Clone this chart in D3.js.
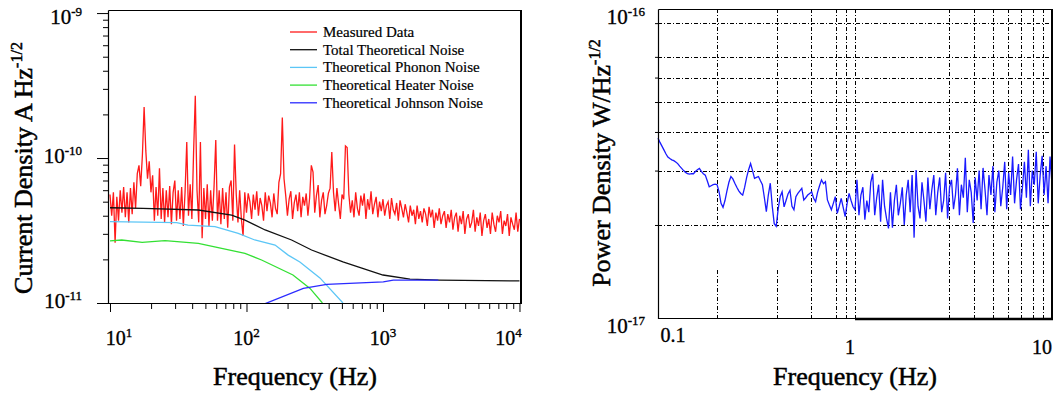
<!DOCTYPE html>
<html>
<head>
<meta charset="utf-8">
<script src="https://cdn.jsdelivr.net/npm/d3@7"></script>
<style>
  body { margin: 0; background: #fff; }
  svg { display: block; font-family: "Liberation Serif", "Times New Roman", serif; }
  text { stroke: #000; stroke-width: 0.35px; }
</style>
</head>
<body>
<svg id="chart" width="1062" height="393"></svg>
<script>
// ---------- left panel: current noise density (values in 1e-12 A/rtHz) ----------
// measured spectrum sampled on a log grid, 10 Hz .. 10 kHz, 0.0125 decade apart
const measuredLogStart = 1, measuredLogStep = 0.0125;
const measuredData = [
  56,40,58,26,54,37,60,42,63,39,58,36,62,41,68,45,78,89,64,105,
  225,112,72,95,58,76,37,63,40,85,38,62,36,60,39,64,35,58,70,37,
  60,38,63,34,58,129,40,66,38,110,269,60,36,129,28,62,38,66,34,60,
  37,64,133,37,60,35,62,38,58,33,63,70,37,124,56,36,60,38,29,58,
  42,57,50,38,56,44,59,40,53,47,37,58,43,55,49,39,57,45,41,68,
  78,190,72,55,40,52,59,38,49,56,43,58,39,54,47,57,40,53,89,80,
  42,55,65,39,51,58,41,47,57,62,110,58,43,62,48,38,56,52,121,118,
  56,42,51,39,58,45,40,55,47,57,38,52,44,59,41,48,54,39,50,43,
  52,40,47,50,38,53,44,41,49,37,51,45,39,48,42,36,47,40,44,35,
  47,38,43,36,45,41,34,46,39,44,33,42,37,45,35,40,43,33,41,36,
  44,32,39,42,31,40,35,43,30,38,41,33,36,44,31,39,34,42,29,37,
  41,33,38,30,42,35,31,40,36,43,30,37,34,41,29,39,35,32,42,31,38
];

const totalFreq  = [10, 17.5, 44.4, 77.8, 97.5, 137, 214, 300, 509, 700, 1000, 1577, 2600, 10000];
const totalNoise = [45.4, 45.0, 43.8, 40.4, 37.3, 31.9, 27.2, 23.2, 19.2, 17.4, 15.6, 14.6, 14.4, 14.2];

const phononFreq  = [10, 30.8, 37.3, 58.8, 87, 115, 162, 202, 246, 345, 509];
const phononNoise = [36.4, 35.8, 34.5, 33.6, 30.2, 27.2, 25.1, 21.4, 19.2, 14.9, 10.0];

const heaterFreq  = [10, 12.2, 17.2, 25.3, 44.4, 65.8, 97.5, 129, 219, 292, 360];
const heaterNoise = [26.8, 27.2, 26.2, 26.9, 25.8, 23.8, 22.0, 19.8, 15.6, 12.6, 10.0];

const johnsonFreq  = [137, 261, 387, 1005, 1190, 2540];
const johnsonNoise = [9.9, 12.6, 13.45, 14.0, 14.4, 14.4];

const legendLabels = ['Measured Data', 'Total Theoretical Noise', 'Theoretical Phonon Noise',
                      'Theoretical Heater Noise', 'Theoretical Johnson Noise'];
const legendColors = ['#ff1a1a', '#111111', '#5cc6f6', '#33e033', '#2b2bff'];

const leftXTicks = [10, 100, 1000, 10000];
const leftXExp   = ['1', '2', '3', '4'];
const leftYTicks = [1e-11, 1e-10, 1e-9];
const leftYExp   = ['-11', '-10', '-9'];

// ---------- right panel: power noise density (values in 1e-18 W/rtHz) ----------
// sampled on a log grid, 0.1 Hz .. 10 Hz, 0.01 decade apart
const powerLogStart = -1, powerLogStep = 0.01;
const powerData = [
  38.2,37.0,36.0,35.0,34.0,33.2,32.8,32.5,32.3,32.0,31.6,31.0,30.5,30.0,29.6,29.3,29.2,29.3,29.3,29.8,
  30.2,30.5,29.8,29.3,29.0,27.8,26.6,26.8,27.0,27.1,27.0,25.6,23.5,22.8,24.0,25.8,27.5,28.7,28.2,27.3,
  26.5,25.8,25.3,25.0,26.5,28.5,30.2,31.6,30.0,28.3,28.5,28.7,27.8,27.0,24.5,22.1,25.0,27.3,23.0,20.2,
  19.8,22.5,24.7,25.6,22.9,24.0,25.2,25.9,23.0,22.4,24.7,25.3,25.8,26.3,24.1,24.5,25.0,25.3,25.6,24.4,
  23.8,25.5,26.8,28.0,27.2,27.6,24.1,23.2,22.4,23.5,24.7,21.8,23.0,24.4,22.8,21.3,23.5,25.3,24.0,22.9,
  22.4,28.0,21.5,25.0,26.5,20.8,24.0,22.0,27.5,29.3,21.5,24.5,27.0,20.5,28.0,23.0,21.0,19.5,25.5,19.6,
  24.0,27.0,21.5,23.5,26.5,20.0,25.0,28.0,22.0,29.0,18.2,30.1,23.0,21.0,27.5,24.0,20.5,28.5,22.5,26.0,
  29.0,21.5,25.5,28.5,22.0,24.0,29.5,21.0,26.5,28.0,22.5,25.0,30.5,21.5,27.0,24.5,33.0,22.0,28.0,25.5,
  20.3,28.5,24.0,30.0,22.5,30.6,26.0,21.5,29.0,25.0,31.0,22.0,27.5,30.0,23.0,26.5,32.0,22.5,29.5,25.0,
  33.3,23.5,28.0,31.5,22.5,26.5,32.0,24.5,35.0,23.0,30.0,27.0,34.5,23.5,29.0,33.5,25.0,31.0,23.5,33.3,
  27.0
];

const rightGridX = [0.2, 0.4, 0.6, 0.8, 0.9, 1, 3, 4, 5, 6, 7, 8, 9];
const rightGridY = [2e-17, 3e-17, 4e-17, 5e-17, 6e-17, 7e-17, 9e-17];
const rightXTicks  = [0.1, 1, 10];
const rightXLabels = ['0.1', '1', '10'];
const rightYTicks = [1e-17, 1e-16];
const rightYExp   = ['-17', '-16'];

const svg = d3.select('#chart');

function powLabel(g, x, y, exp, size, anchor) {
  const t = g.append('text').attr('x', x).attr('y', y)
    .attr('text-anchor', anchor).attr('font-size', size);
  t.append('tspan').text('10');
  t.append('tspan').attr('dy', -8).attr('font-size', 13).text(exp);
  return t;
}

// ================= left chart =================
const xL = d3.scaleLog().domain([9.67, 10260]).range([108, 521]);
const yL = d3.scaleLog().domain([1e-11, 1.05e-9]).range([303, 10]);
const left = svg.append('g');

left.append('clipPath').attr('id', 'clipL')
  .append('rect').attr('x', 108).attr('y', 10).attr('width', 413).attr('height', 293);

const lineL = d3.line().x(d => xL(d[0])).y(d => yL(d[1] * 1e-12));
const plotL = left.append('g').attr('clip-path', 'url(#clipL)');

const measured = measuredData.map((v, i) => [Math.pow(10, measuredLogStart + i * measuredLogStep), v]);
plotL.append('path').datum(measured)
  .attr('d', lineL).attr('fill', 'none').attr('stroke', legendColors[0])
  .attr('stroke-width', 1.3);

const curves = [
  [totalFreq, totalNoise, legendColors[1]],
  [phononFreq, phononNoise, legendColors[2]],
  [heaterFreq, heaterNoise, legendColors[3]],
  [johnsonFreq, johnsonNoise, legendColors[4]]
];
curves.forEach(c => {
  plotL.append('path').datum(c[0].map((f, i) => [f, c[1][i]]))
    .attr('d', lineL).attr('fill', 'none').attr('stroke', c[2]).attr('stroke-width', 1.3);
});

// axes
const minorX = xL.ticks().filter(v => leftXTicks.indexOf(v) < 0 && v > 10 && v < 10000);
left.append('g').attr('transform', 'translate(0,303)')
  .call(d3.axisBottom(xL).tickValues(leftXTicks).tickSize(9).tickSizeOuter(0).tickFormat(''))
  .call(g => g.select('.domain').remove());
left.append('g').attr('transform', 'translate(0,303)')
  .call(d3.axisBottom(xL).tickValues(minorX).tickSize(6).tickSizeOuter(0).tickFormat(''))
  .call(g => g.select('.domain').remove());

const minorY = yL.ticks().filter(v => v > 1.01e-11 && v < 0.99e-9 && Math.abs(Math.log10(v) - Math.round(Math.log10(v))) > 0.01);
left.append('g').attr('transform', 'translate(108,0)')
  .call(d3.axisLeft(yL).tickValues(leftYTicks).tickSize(11).tickSizeOuter(0).tickFormat(''))
  .call(g => g.select('.domain').remove());
left.append('g').attr('transform', 'translate(108,0)')
  .call(d3.axisLeft(yL).tickValues(minorY).tickSize(5).tickSizeOuter(0).tickFormat(''))
  .call(g => g.select('.domain').remove());

// frame
left.append('path').attr('fill', 'none').attr('stroke', '#000').attr('stroke-width', 1.2)
  .attr('d', 'M108.5,10.5V303.5H521.5M108.5,10.5H521.5');
left.append('line').attr('x1', 521).attr('x2', 521).attr('y1', 10).attr('y2', 304)
  .attr('stroke', '#000').attr('stroke-width', 2);

// tick labels
leftXTicks.forEach((v, i) => {
  const dx = i === 0 ? 9 : (i === leftXTicks.length - 1 ? -11 : 0);
  powLabel(left, xL(v) + dx, 345, leftXExp[i], 20, 'middle');
});
leftYTicks.forEach((v, i) => {
  powLabel(left, 82, Math.max(yL(v) + 5, 24), leftYExp[i], 21, 'end');
});

// legend
legendLabels.forEach((lab, i) => {
  const ry = 32 + i * 17.7;
  left.append('line').attr('x1', 290).attr('x2', 317).attr('y1', ry).attr('y2', ry)
    .attr('stroke', legendColors[i]).attr('stroke-width', 1.3);
  left.append('text').attr('x', 323).attr('y', ry + 5).attr('font-size', 15)
    .style('stroke-width', '0.2px').text(lab);
});

// titles
left.append('text').attr('x', 295).attr('y', 385).attr('text-anchor', 'middle')
  .attr('font-size', 26).style('stroke-width', '0.5px').text('Frequency (Hz)');
const tL = left.append('text').attr('transform', 'translate(32,168) rotate(-90)')
  .attr('text-anchor', 'middle').attr('font-size', 26).style('stroke-width', '0.5px');
tL.append('tspan').text('Current Density A Hz');
tL.append('tspan').attr('dy', -10).attr('font-size', 16).text('-1/2');

// ================= right chart =================
const xR = d3.scaleLog().domain([0.1, 10]).range([658, 1052]);
const yR = d3.scaleLog().domain([1e-17, 1e-16]).range([318, 9]);
const right = svg.append('g');
const dash = '4,2,1,2';

right.selectAll('.gy').data(rightGridY).enter().append('line')
  .attr('x1', 658).attr('x2', 1052)
  .attr('y1', d => Math.round(yR(d)) + 0.5).attr('y2', d => Math.round(yR(d)) + 0.5)
  .attr('stroke', '#000').attr('stroke-dasharray', dash);
right.selectAll('.gx').data(rightGridX).enter().append('line')
  .attr('x1', d => Math.round(xR(d)) + 0.5).attr('x2', d => Math.round(xR(d)) + 0.5)
  .attr('y1', 9).attr('y2', 318)
  .attr('stroke', '#000').attr('stroke-dasharray', dash);

// empty (hidden) legend box masking part of the grid
right.append('rect')
  .attr('x', xR(0.104)).attr('y', yR(1.98e-17))
  .attr('width', xR(0.55) - xR(0.104)).attr('height', yR(1.45e-17) - yR(1.98e-17))
  .attr('fill', '#fff');

const lineR = d3.line().x(d => xR(d[0])).y(d => yR(d[1] * 1e-18));
const power = powerData.map((v, i) => [Math.pow(10, powerLogStart + i * powerLogStep), v]);
right.append('path').datum(power)
  .attr('d', lineR).attr('fill', 'none').attr('stroke', '#1a1aff').attr('stroke-width', 1.3);

right.append('g').attr('transform', 'translate(658,0)')
  .call(d3.axisLeft(yR).tickValues(rightGridY).tickSize(3).tickSizeOuter(0).tickFormat(''))
  .call(g => g.select('.domain').remove());

// frame
right.append('path').attr('fill', 'none').attr('stroke', '#000').attr('stroke-width', 1.2)
  .attr('d', 'M658.5,9.5V318.5H1052.5M658.5,9.5H1052.5');
right.append('line').attr('x1', 1052).attr('x2', 1052).attr('y1', 9).attr('y2', 320)
  .attr('stroke', '#000').attr('stroke-width', 2);
right.append('line').attr('x1', xR(1)).attr('x2', 1053).attr('y1', 319).attr('y2', 319)
  .attr('stroke', '#000').attr('stroke-width', 2.5);

// tick labels
const rxDx = [15, -5, 0], rxY = [342, 354, 354], rxAnchor = ['middle', 'middle', 'end'];
rightXTicks.forEach((v, i) => {
  right.append('text').attr('x', Math.min(xR(v) + rxDx[i], 1061)).attr('y', rxY[i])
    .attr('text-anchor', rxAnchor[i]).attr('font-size', 20).text(rightXLabels[i]);
});
rightYTicks.forEach((v, i) => {
  powLabel(right, 645, i === 0 ? 333 : 24, rightYExp[i], 21, 'end');
});

right.append('text').attr('x', 855).attr('y', 385).attr('text-anchor', 'middle')
  .attr('font-size', 26).style('stroke-width', '0.5px').text('Frequency (Hz)');
const tR = right.append('text').attr('transform', 'translate(610,163) rotate(-90)')
  .attr('text-anchor', 'middle').attr('font-size', 26).style('stroke-width', '0.5px');
tR.append('tspan').text('Power Density W/Hz');
tR.append('tspan').attr('dy', -10).attr('font-size', 16).text('-1/2');
</script>
</body>
</html>
